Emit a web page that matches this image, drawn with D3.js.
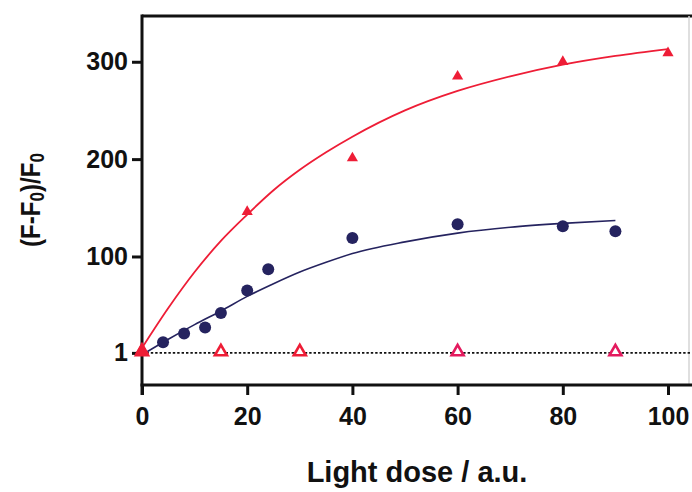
<!DOCTYPE html>
<html>
<head>
<meta charset="utf-8">
<script src="https://cdn.jsdelivr.net/npm/d3@7"></script>
<style>
  html, body { margin: 0; padding: 0; background: #fff; }
  svg { display: block; }
  text { font-family: "Liberation Sans", Arial, Helvetica, sans-serif; font-weight: bold; fill: #111; }
</style>
</head>
<body>
<svg id="chart" width="692" height="492"></svg>
<script>
// Light dose (a.u.) for each measured series
const doseTriangles = [0, 20, 40, 60, 80, 100];
const valueTriangles = [4, 146, 201, 285, 300, 309];

const doseCircles = [4, 8, 12, 15, 20, 24, 40, 60, 80, 90];
const valueCircles = [12, 21, 27, 42, 65, 87, 119, 133, 131, 126];

const doseControl = [0, 15, 30, 60, 90];
const valueControl = [1, 1, 1, 1, 1];

// Fitted saturation curves, sampled along the dose axis
const fitRedDose = [0, 5, 10, 15, 20, 25, 30, 35, 40, 50, 60, 70, 80, 90, 100];
const fitRedValue = [6, 47, 84, 116, 143, 168, 189, 207, 223, 250, 270, 285, 297, 306, 313];

const fitBlueDose = [0, 5, 10, 15, 20, 25, 30, 35, 40, 50, 60, 70, 80, 90];
const fitBlueValue = [-1, 15, 30, 44, 59, 72, 84, 94, 103, 115, 124, 130, 134, 137];

// Axis ticks
const xTicks = [0, 20, 40, 60, 80, 100];
const yTicks = [1, 100, 200, 300];
const yTickLabels = ["1", "100", "200", "300"];

const svg = d3.select("#chart");
const W = 692, H = 492;
const plot = { left: 142, right: 668, top: 16, bottom: 385 };

const x = d3.scaleLinear().domain([0, 100]).range([plot.left, plot.right]);
const y = d3.scaleLinear().domain([-32, 347]).range([plot.bottom, plot.top]);

const red = "#ee1d36";
const pink = "#e41a5e";
const navy = "#25235f";

// Frame: top border and a faint right edge
svg.append("line")
  .attr("x1", plot.left).attr("x2", W)
  .attr("y1", plot.top).attr("y2", plot.top)
  .attr("stroke", "#111").attr("stroke-width", 3);
svg.append("line")
  .attr("x1", 689).attr("x2", 689)
  .attr("y1", plot.top).attr("y2", plot.bottom)
  .attr("stroke", "#d4d4d4").attr("stroke-width", 1.5);

// Baseline at (F-F0)/F0 = 1
svg.append("line")
  .attr("x1", x(0)).attr("x2", W)
  .attr("y1", y(1)).attr("y2", y(1))
  .attr("stroke", "#111").attr("stroke-width", 1.6)
  .attr("stroke-dasharray", "2.4,2");

// Axes
const xAxis = d3.axisBottom(x).tickValues(xTicks).tickFormat(d3.format("d"))
  .tickSize(10).tickSizeOuter(0).tickPadding(12);
const yAxis = d3.axisLeft(y).tickValues(yTicks)
  .tickFormat((d, i) => yTickLabels[i])
  .tickSize(10).tickSizeOuter(0).tickPadding(4);

const gx = svg.append("g").attr("transform", `translate(0,${plot.bottom})`).call(xAxis);
gx.select(".domain").remove();
gx.append("line").attr("x1", plot.left - 1.5).attr("x2", W).attr("y1", 0).attr("y2", 0)
  .attr("stroke", "#111").attr("stroke-width", 3);

const gy = svg.append("g").attr("transform", `translate(${plot.left},0)`).call(yAxis);
gy.select(".domain").remove();
gy.append("line").attr("x1", 0).attr("x2", 0).attr("y1", plot.top - 1.5).attr("y2", plot.bottom + 10)
  .attr("stroke", "#111").attr("stroke-width", 3);

[gx, gy].forEach(g => {
  g.selectAll(".tick line").attr("stroke", "#111").attr("stroke-width", 3);
  g.selectAll(".tick text").attr("fill", "#111")
    .style("font-size", "25px").style("font-weight", "bold")
    .style("font-family", "'Liberation Sans', Arial, sans-serif");
});

// Fit curves
const line = d3.line().x(d => x(d[0])).y(d => y(d[1])).curve(d3.curveMonotoneX);
svg.append("path")
  .datum(fitRedDose.map((d, i) => [d, fitRedValue[i]]))
  .attr("d", line).attr("fill", "none").attr("stroke", red).attr("stroke-width", 1.8);
svg.append("path")
  .datum(fitBlueDose.map((d, i) => [d, fitBlueValue[i]]))
  .attr("d", line).attr("fill", "none").attr("stroke", navy).attr("stroke-width", 1.6);

// Control: open triangles
const controlColor = d3.scaleThreshold().domain([45]).range([red, pink]);
svg.append("g").selectAll("path")
  .data(doseControl.map((d, i) => [d, valueControl[i]]))
  .join("path")
  .attr("transform", d => `translate(${x(d[0])},${y(d[1]) - 1})`)
  .attr("d", d3.symbol(d3.symbolTriangle, 62))
  .attr("fill", "#fff")
  .attr("stroke", d => controlColor(d[0]))
  .attr("stroke-width", 2.6);

// Filled circles
svg.append("g").selectAll("circle")
  .data(doseCircles.map((d, i) => [d, valueCircles[i]]))
  .join("circle")
  .attr("cx", d => x(d[0])).attr("cy", d => y(d[1]))
  .attr("r", 6)
  .attr("fill", navy);

// Filled triangles
svg.append("g").selectAll("path")
  .data(doseTriangles.map((d, i) => [d, valueTriangles[i]]))
  .join("path")
  .attr("transform", d => `translate(${x(d[0])},${y(d[1])})`)
  .attr("d", (d, i) => d3.symbol(d3.symbolTriangle, i === 0 ? 85 : 54)())
  .attr("fill", red);

// Axis titles
svg.append("text")
  .attr("x", 417).attr("y", 482)
  .attr("text-anchor", "middle")
  .style("font-size", "29px")
  .text("Light dose / a.u.");

const yTitle = svg.append("text")
  .attr("transform", "translate(40,200) rotate(-90) scale(0.86,1)")
  .attr("text-anchor", "middle")
  .style("font-size", "28px");
yTitle.append("tspan").text("(F-F");
yTitle.append("tspan").attr("baseline-shift", "-20%").style("font-size", "20px").text("0");
yTitle.append("tspan").attr("baseline-shift", "0").text(")/F");
yTitle.append("tspan").attr("baseline-shift", "-20%").style("font-size", "20px").text("0");
</script>
</body>
</html>
